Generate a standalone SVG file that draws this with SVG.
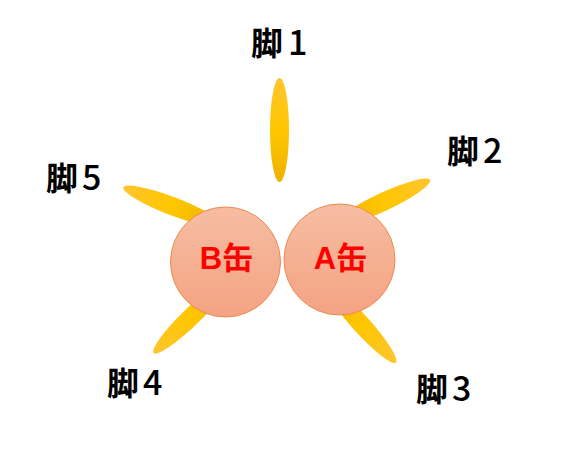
<svg xmlns="http://www.w3.org/2000/svg" width="581" height="459" viewBox="0 0 581 459">
<defs>
<linearGradient id="petal" x1="0" y1="0" x2="1" y2="0">
<stop offset="0" stop-color="#FFC52E"/>
<stop offset="0.5" stop-color="#FFC600"/>
<stop offset="1" stop-color="#EDB200"/>
</linearGradient>
<linearGradient id="can" x1="0" y1="0" x2="0" y2="1">
<stop offset="0" stop-color="#F6BDA2"/>
<stop offset="1" stop-color="#F4A383"/>
</linearGradient>
<style>
.petal{fill:url(#petal);}
.can{fill:url(#can);stroke:#EE8A4E;stroke-width:1;}
.lbl{font-family:"Noto Sans CJK JP","Liberation Sans",sans-serif;font-size:32px;fill:#000;font-weight:bold;}
.dig{font-family:"Noto Sans CJK JP","Liberation Sans",sans-serif;font-size:34px;font-weight:500;}
.canlbl{font-family:"Liberation Sans","Noto Sans CJK JP",sans-serif;font-size:31px;font-weight:bold;fill:#FF0000;text-anchor:middle;}
</style>
</defs>
<rect width="581" height="459" fill="#FFFFFF"/>
<g id="leg1"><ellipse class="petal" cx="0" cy="0" rx="52" ry="9.5" transform="translate(279.5,130) rotate(90)"/></g>
<g id="leg2"><ellipse class="petal" cx="0" cy="0" rx="52" ry="9" transform="translate(383,202) rotate(155)"/></g>
<g id="leg3"><ellipse class="petal" cx="0" cy="0" rx="52" ry="9" transform="translate(361,324) rotate(228)"/></g>
<g id="leg4"><ellipse class="petal" cx="0" cy="0" rx="52" ry="9" transform="translate(191,317) rotate(-44)"/></g>
<g id="leg5"><ellipse class="petal" cx="0" cy="0" rx="52" ry="9" transform="translate(172,206) rotate(21)"/></g>
<g id="canB"><circle class="can" cx="225.5" cy="262" r="55"/><text class="canlbl" x="226.5" y="269">B缶</text></g>
<g id="canA"><circle class="can" cx="339.5" cy="259.5" r="55.5"/><text class="canlbl" x="340.5" y="269">A缶</text></g>
<g id="labels">
<text class="lbl" x="251" y="55">脚<tspan class="dig" dx="5">1</tspan></text>
<text class="lbl" x="447" y="163">脚<tspan class="dig" dx="4">2</tspan></text>
<text class="lbl" x="416" y="401">脚<tspan class="dig" dx="4">3</tspan></text>
<text class="lbl" x="107" y="395">脚<tspan class="dig" dx="4">4</tspan></text>
<text class="lbl" x="46" y="190">脚<tspan class="dig" dx="4">5</tspan></text>
</g>
<g id="connectors"/>
</svg>
